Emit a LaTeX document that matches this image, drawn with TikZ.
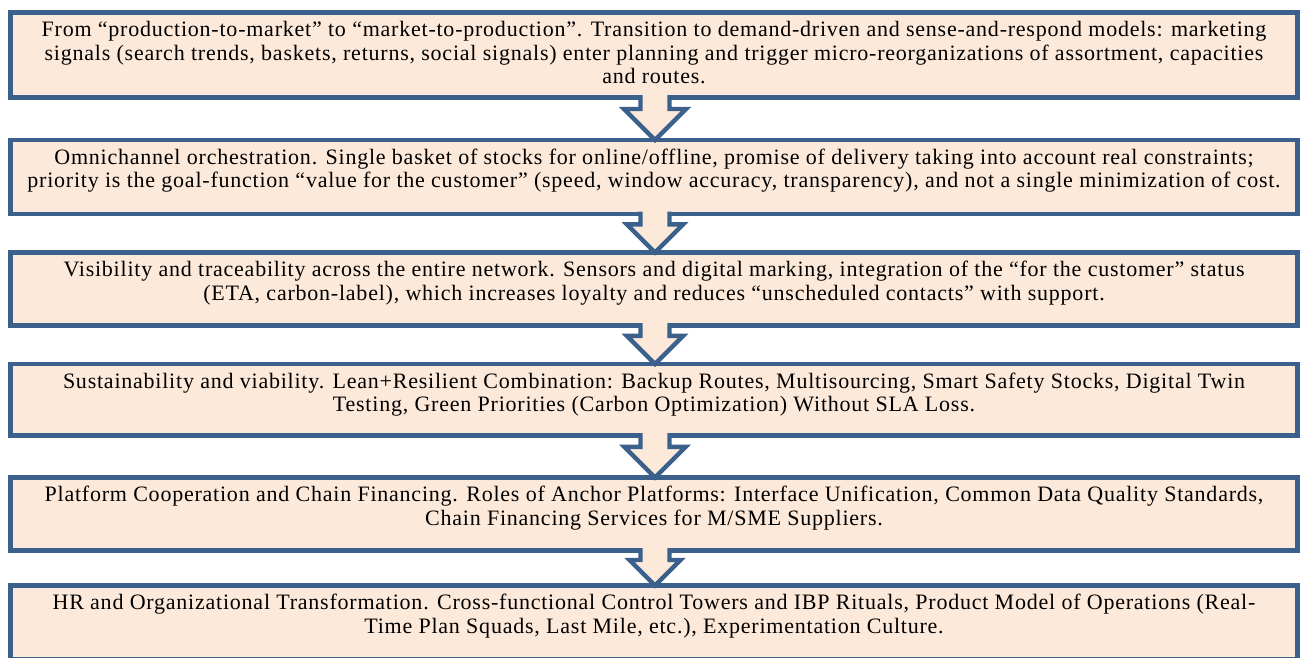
\documentclass[tikz,border=0pt]{standalone}
\usepackage{fontspec}
\setmainfont{Liberation Serif}
\newfontfamily\stageserif[LetterSpace=3.5]{Liberation Serif}
\usetikzlibrary{calc}

\definecolor{edgeblue}{RGB}{59,96,140}
\definecolor{boxfill}{HTML}{FDE9D9}

\tikzset{
  stagebox/.style={draw=edgeblue, fill=boxfill, line width=4.6pt,
    outer sep=0pt, inner sep=0pt, minimum width=1287pt},
  stagetext/.style={anchor=base, inner sep=0pt, outer sep=0pt},
  arrowfill/.style={fill=boxfill},
  arrowline/.style={draw=edgeblue, line width=4.4pt, line join=miter},
}

% hollow block arrow from the bottom of box #1 to the top of box #2
\newcommand\flowarrow[2]{%
  \path let \p1=(#1.south), \p2=(#2.north), \n1={\y1-\y2}, \n2={0.27*\n1},
    \n3={\n1-\n2}, \n4={\x1+1pt} in
    [arrowfill] (\n4-14.5pt,\y1+4pt) -- (\n4-14.5pt,\y1-\n2) -- (\n4-\n3,\y1-\n2)
      -- (\n4,\y2) -- (\n4+\n3,\y1-\n2) -- (\n4+14.5pt,\y1-\n2)
      -- (\n4+14.5pt,\y1+4pt) -- cycle;
  \path let \p1=(#1.south), \p2=(#2.north), \n1={\y1-\y2}, \n2={0.27*\n1},
    \n3={\n1-\n2}, \n4={\x1+1pt} in
    [arrowline] (\n4-14.5pt,\y1+2.3pt) -- (\n4-14.5pt,\y1-\n2) -- (\n4-\n3,\y1-\n2)
      -- (\n4,\y2) -- (\n4+\n3,\y1-\n2) -- (\n4+14.5pt,\y1-\n2)
      -- (\n4+14.5pt,\y1+2.3pt);
}

\newcommand\stagefont{\stageserif\fontsize{22}{23.3}\selectfont}

\begin{document}
\begin{tikzpicture}[x=1pt, y=-1pt]
  \useasboundingbox (0,0) rectangle (1301,657);

  % stage boxes
  \node[stagebox, minimum height=85pt]   (b1) at (654,55)     {};
  \node[stagebox, minimum height=74pt]   (b2) at (654,177)    {};
  \node[stagebox, minimum height=73pt]   (b3) at (654,289)    {};
  \node[stagebox, minimum height=71.5pt] (b4) at (654,399.75) {};
  \node[stagebox, minimum height=73pt]   (b5) at (654,514)    {};
  \node[stagebox, minimum height=73.5pt] (b6) at (654,622.25) {};

  % connecting arrows
  \flowarrow{b1}{b2}
  \flowarrow{b2}{b3}
  \flowarrow{b3}{b4}
  \flowarrow{b4}{b5}
  \flowarrow{b5}{b6}

  % stage texts
  \node[stagetext] (t1) at ($(b1.north)+(0,24.2)$) {\parbox[t]{1285pt}{\centering\stagefont
    From “production-to-market” to “market-to-production”. Transition to demand-driven and sense-and-respond models: marketing\\
    signals (search trends, baskets, returns, social signals) enter planning and trigger micro-reorganizations of assortment, capacities\\
    and routes.}};
  \node[stagetext] (t2) at ($(b2.north)+(0,24.2)$) {\parbox[t]{1285pt}{\centering\stagefont
    Omnichannel orchestration. Single basket of stocks for online/offline, promise of delivery taking into account real constraints;\\
    priority is the goal-function “value for the customer” (speed, window accuracy, transparency), and not a single minimization of cost.}};
  \node[stagetext] (t3) at ($(b3.north)+(0,24.2)$) {\parbox[t]{1285pt}{\centering\stagefont
    Visibility and traceability across the entire network. Sensors and digital marking, integration of the “for the customer” status\\
    (ETA, carbon-label), which increases loyalty and reduces “unscheduled contacts” with support.}};
  \node[stagetext] (t4) at ($(b4.north)+(0,24.2)$) {\parbox[t]{1285pt}{\centering\stagefont
    Sustainability and viability. Lean+Resilient Combination: Backup Routes, Multisourcing, Smart Safety Stocks, Digital Twin\\
    Testing, Green Priorities (Carbon Optimization) Without SLA Loss.}};
  \node[stagetext] (t5) at ($(b5.north)+(0,24.2)$) {\parbox[t]{1285pt}{\centering\stagefont
    Platform Cooperation and Chain Financing. Roles of Anchor Platforms: Interface Unification, Common Data Quality Standards,\\
    Chain Financing Services for M/SME Suppliers.}};
  \node[stagetext] (t6) at ($(b6.north)+(0,24.2)$) {\parbox[t]{1285pt}{\centering\stagefont
    HR and Organizational Transformation. Cross-functional Control Towers and IBP Rituals, Product Model of Operations (Real-\\
    Time Plan Squads, Last Mile, etc.), Experimentation Culture.}};
\end{tikzpicture}
\end{document}
